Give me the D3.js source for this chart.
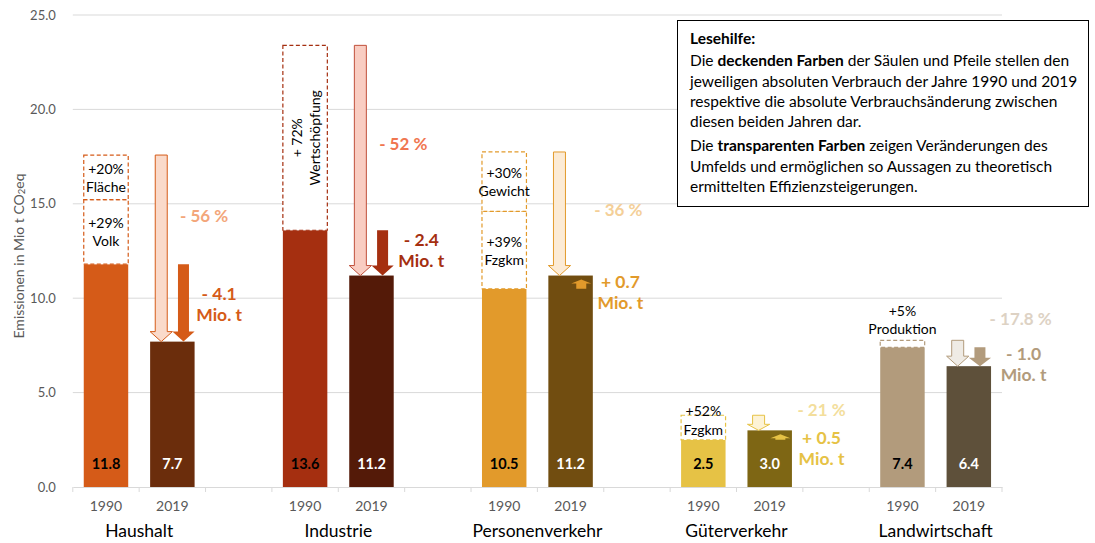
<!DOCTYPE html>
<html>
<head>
<meta charset="utf-8">
<script src="https://cdn.jsdelivr.net/npm/d3@7"></script>
<style>
  body { margin: 0; background: #fff; }
  svg { display: block; }
  text { font-family: Lato, "Open Sans", "Liberation Sans", sans-serif; }
</style>
</head>
<body>
<svg id="chart" width="1095" height="543"></svg>
<script>
// ---- data -------------------------------------------------------------
const sectors = ["Haushalt", "Industrie", "Personenverkehr", "Güterverkehr", "Landwirtschaft"];
const years = ["1990", "2019"];
const values1990 = [11.8, 13.6, 10.5, 2.5, 7.4];
const values2019 = [7.7, 11.2, 11.2, 3.0, 6.4];
// growth of the drivers (percent of the 1990 level), stacked on top of the 1990 bar
const driverPct = [[29, 20], [72], [39, 30], [52], [5]];
const driverNames = [["Volk", "Fläche"], ["Wertschöpfung"], ["Fzgkm", "Gewicht"], ["Fzgkm"], ["Produktion"]];
const efficiencyLabels = ["- 56 %", "- 52 %", "- 36 %", "- 21 %", "- 17.8 %"];
const changeLabels = ["- 4.1", "- 2.4", "+ 0.7", "+ 0.5", "- 1.0"];
const yTicks = [0, 5, 10, 15, 20, 25];

// ---- styles -----------------------------------------------------------
const color1990 = ["#D55B18", "#A52F10", "#E29A2B", "#E6C245", "#B29B7C"];
const color2019 = ["#6B2D0C", "#541A08", "#714D10", "#7E6614", "#5E503A"];
const lightFill = ["#FADACA", "#F9CDC2", "#FCEBD5", "#FDF3D6", "#EFEBE5"];
const lightStroke = ["#D55B18", "#C0503A", "#E29A2B", "#E6C245", "#B29B7C"];
const pctColor = ["#F3A67A", "#F07650", "#F4CF98", "#F3DE9C", "#DDD2C4"];

// label anchors: x offset from the 2019 slot, y in data units
const labelLayout = [
  { pctDx: 65, pctV: 14.4, chgDx: 80, chgV: 9.7 },
  { pctDx: 65, pctV: 18.2, chgDx: 83, chgV: 12.55 },
  { pctDx: 81, pctV: 14.7, chgDx: 83, chgV: 10.35 },
  { pctDx: 85, pctV: 4.13, chgDx: 85, chgV: 2.09 },
  { pctDx: 85, pctV: 8.95, chgDx: 88, chgV: 6.54 }
];

const svg = d3.select("#chart");

// one slot per bar plus an empty slot between sectors
const slotKeys = sectors.flatMap((s, i) =>
  i < sectors.length - 1 ? [s + "|1990", s + "|2019", s + "|gap"] : [s + "|1990", s + "|2019"]);

const x = d3.scaleBand().domain(slotKeys).range([72.8, 1002]).padding(0);
const y = d3.scaleLinear().domain([0, 25]).range([487, 15]);
const bw = x.bandwidth();
const barW = bw * 0.67;
const barX = key => x(key) + (bw - barW) / 2;

// ---- grid -------------------------------------------------------------
svg.append("g")
  .selectAll("line")
  .data(yTicks.filter(d => d > 0))
  .join("line")
  .attr("x1", x.range()[0]).attr("x2", x.range()[1])
  .attr("y1", d => y(d)).attr("y2", d => y(d))
  .attr("stroke", "#D9D9D9").attr("stroke-width", 1);

// y axis labels
const yAxis = svg.append("g")
  .attr("transform", `translate(${x.range()[0] - 14},0)`)
  .call(d3.axisLeft(y).tickValues(yTicks).tickFormat(d3.format(".1f")).tickSize(0));
yAxis.select(".domain").remove();
yAxis.selectAll("text")
  .attr("font-size", 13).attr("fill", "#595959")
  .style("font-family", "Lato, sans-serif");

// x axis: year labels at slot centres
const xAxis = svg.append("g")
  .attr("transform", `translate(0,${y(0)})`)
  .call(d3.axisBottom(x).tickSize(0).tickPadding(14)
    .tickFormat(k => k.endsWith("gap") ? "" : k.split("|")[1]));
xAxis.select(".domain").attr("stroke", "#D9D9D9");
xAxis.selectAll("text")
  .attr("font-size", 14).attr("fill", "#595959")
  .style("font-family", "Lato, sans-serif");

// boundary ticks between slots
const boundaries = slotKeys.map(k => x(k)).concat([x.range()[1]]);
svg.append("g").selectAll("line").data(boundaries).join("line")
  .attr("x1", d => d).attr("x2", d => d)
  .attr("y1", y(0)).attr("y2", y(0) + 5)
  .attr("stroke", "#D9D9D9");

// sector names, centred between the two year slots
svg.append("g").selectAll("text").data(sectors).join("text")
  .attr("x", s => x(s + "|2019"))
  .attr("y", 530)
  .attr("text-anchor", "middle").attr("dominant-baseline", "central")
  .attr("font-size", 17.5).attr("fill", "#000")
  .text(s => s);

// y axis title
const yTitle = svg.append("text")
  .attr("transform", "translate(18,256) rotate(-90)")
  .attr("text-anchor", "middle").attr("dominant-baseline", "central")
  .attr("font-size", 14).attr("fill", "#595959");
yTitle.append("tspan").text("Emissionen in Mio t CO");
yTitle.append("tspan").text("2").attr("font-size", 9.5).attr("dy", 3);
yTitle.append("tspan").text("eq").attr("dy", -3);

// ---- bars -------------------------------------------------------------
const rows = sectors.map((s, i) => ({
  s, i, v1990: values1990[i], v2019: values2019[i],
  ref: values1990[i] * (1 + d3.sum(driverPct[i]) / 100)
}));

const marks = svg.append("g");

rows.forEach(r => {
  const k90 = r.s + "|1990", k19 = r.s + "|2019";
  // 1990 and 2019 bars
  marks.append("rect")
    .attr("x", barX(k90)).attr("width", barW)
    .attr("y", y(r.v1990)).attr("height", y(0) - y(r.v1990))
    .attr("fill", color1990[r.i]);
  marks.append("rect")
    .attr("x", barX(k19)).attr("width", barW)
    .attr("y", y(r.v2019)).attr("height", y(0) - y(r.v2019))
    .attr("fill", color2019[r.i]);

  // bar values
  marks.append("text")
    .attr("x", barX(k90) + barW / 2).attr("y", y(0) - 24)
    .attr("text-anchor", "middle").attr("dominant-baseline", "central")
    .attr("font-size", 14.5).attr("font-weight", 700).attr("fill", "#000")
    .text(d3.format(".1f")(r.v1990));
  marks.append("text")
    .attr("x", barX(k19) + barW / 2).attr("y", y(0) - 24)
    .attr("text-anchor", "middle").attr("dominant-baseline", "central")
    .attr("font-size", 14.5).attr("font-weight", 700).attr("fill", "#fff")
    .text(d3.format(".1f")(r.v2019));

  // dashed driver segments stacked on the 1990 bar
  let base = r.v1990;
  driverPct[r.i].forEach((p, j) => {
    const top = base + r.v1990 * p / 100;
    const y0 = y(base), y1 = y(top);
    const bx = barX(k90);
    marks.append("rect")
      .attr("x", bx).attr("y", y1).attr("width", barW).attr("height", y0 - y1)
      .attr("fill", "#fff")
      .attr("stroke", color1990[r.i]).attr("stroke-width", 1.2)
      .attr("stroke-dasharray", "4,2.5");
    const h = y0 - y1, cx = bx + barW / 2, mid = (y0 + y1) / 2;
    const l1 = "+" + (h > 120 ? " " : "") + p + "%", l2 = driverNames[r.i][j];
    if (h > 120) {
      const g = marks.append("g").attr("transform", `translate(${cx},${mid}) rotate(-90)`);
      [l1, l2].forEach((t, n) => g.append("text")
        .attr("x", 0).attr("y", n === 0 ? -9 : 9)
        .attr("text-anchor", "middle").attr("dominant-baseline", "central")
        .attr("font-size", 14).attr("fill", "#000").text(t));
    } else {
      let ys;
      if (h < 15) ys = [y1 - 30, y1 - 12];
      else if (h < 40) ys = [y1 - 5, y1 + 14];
      else ys = [mid - 9, mid + 9];
      [l1, l2].forEach((t, n) => marks.append("text")
        .attr("x", cx).attr("y", ys[n])
        .attr("text-anchor", "middle").attr("dominant-baseline", "central")
        .attr("font-size", 14).attr("fill", "#000").text(t));
    }
    base = top;
  });
});

// ---- arrows -----------------------------------------------------------
function arrowPath(cx, yFrom, yTip, shaftW, headW, headH) {
  const dir = yTip > yFrom ? 1 : -1;
  const yb = yTip - dir * headH;
  return `M${cx - shaftW / 2},${yFrom}L${cx + shaftW / 2},${yFrom}L${cx + shaftW / 2},${yb}` +
    `L${cx + headW / 2},${yb}L${cx},${yTip}L${cx - headW / 2},${yb}L${cx - shaftW / 2},${yb}Z`;
}

rows.forEach(r => {
  const bx = barX(r.s + "|2019");
  // theoretical reduction: from the driver-adjusted level to 2019
  const yA = y(r.ref), yB = y(r.v2019);
  const lenA = yB - yA;
  marks.append("path")
    .attr("d", arrowPath(bx + barW / 4, yA, yB, 12, barW / 2, Math.min(10, lenA * 0.4)))
    .attr("fill", lightFill[r.i]).attr("stroke", lightStroke[r.i]).attr("stroke-width", 1);

  if (r.v2019 < r.v1990) {
    // absolute reduction 1990 -> 2019
    const y0 = y(r.v1990);
    marks.append("path")
      .attr("d", arrowPath(bx + barW * 3 / 4, y0, yB, 11, barW / 2, Math.min(10, (yB - y0) * 0.45)))
      .attr("fill", color1990[r.i]);
  } else {
    // absolute increase, drawn inside the top of the 2019 bar
    marks.append("path")
      .attr("d", arrowPath(bx + barW * 0.74, y(r.v1990), yB + 4, 10, 20, 4))
      .attr("fill", color1990[r.i]);
  }

  const L = labelLayout[r.i];
  const sx = x(r.s + "|2019");
  marks.append("text")
    .attr("x", sx + L.pctDx).attr("y", y(L.pctV))
    .attr("text-anchor", "middle").attr("dominant-baseline", "central")
    .attr("font-size", 17).attr("font-weight", 700).attr("fill", pctColor[r.i])
    .text(efficiencyLabels[r.i]);
  const cy = y(L.chgV);
  [changeLabels[r.i], "Mio. t"].forEach((t, n) => marks.append("text")
    .attr("x", sx + L.chgDx).attr("y", cy + (n === 0 ? -10.5 : 10.5))
    .attr("text-anchor", "middle").attr("dominant-baseline", "central")
    .attr("font-size", 17.5).attr("font-weight", 700).attr("fill", color1990[r.i])
    .text(t));
});

// ---- reading aid box --------------------------------------------------
const legend = svg.append("g");
legend.append("rect")
  .attr("x", 677.5).attr("y", 20.5).attr("width", 411).attr("height", 186)
  .attr("fill", "#fff").attr("stroke", "#000").attr("stroke-width", 1);

const legendLines = [
  [["Lesehilfe:", true]],
  [["Die ", false], ["deckenden Farben", true], [" der Säulen und Pfeile stellen den", false]],
  [["jeweiligen absoluten Verbrauch der Jahre 1990 und 2019", false]],
  [["respektive die absolute Verbrauchsänderung zwischen", false]],
  [["diesen beiden Jahren dar.", false]],
  [["Die ", false], ["transparenten Farben", true], [" zeigen Veränderungen des", false]],
  [["Umfelds und ermöglichen so Aussagen zu theoretisch", false]],
  [["ermittelten Effizienzsteigerungen.", false]]
];
const legendY = [38, 60, 80.5, 101, 121, 145, 165.5, 186];
legendLines.forEach((parts, i) => {
  const t = legend.append("text")
    .attr("x", 690).attr("y", legendY[i])
    .attr("dominant-baseline", "central")
    .attr("font-size", 15.5).attr("fill", "#000");
  parts.forEach(([txt, bold]) => t.append("tspan")
    .attr("font-weight", bold ? 700 : 400).text(txt));
});
</script>
</body>
</html>
